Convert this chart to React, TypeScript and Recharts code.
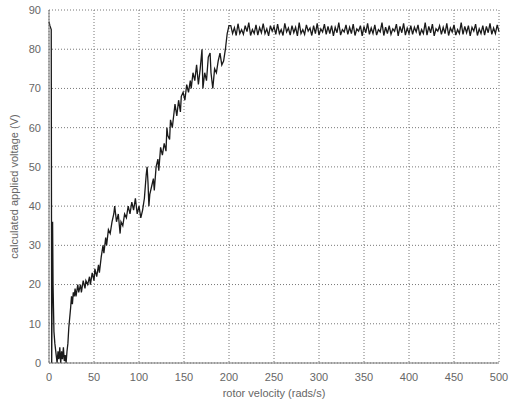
import React from "react";
import { LineChart, Line, XAxis, YAxis, CartesianGrid } from "recharts";

// start-up and ramp section (rads/s, V)
const rampVelocity = [
  0, 1, 2.5, 3, 4, 4.5, 5, 5.5, 6.5, 8, 9, 10, 11, 12, 13, 14, 15, 16, 17, 18, 19, 20, 21, 22, 24, 25, 26, 27,
  28, 29, 30, 32, 33, 35, 36, 38, 40, 41, 43, 45, 46, 48, 50, 51, 53, 55, 56, 58, 60, 61, 63, 64, 66, 68, 70,
  72, 73, 75, 77, 79, 80, 82, 84, 86, 88, 90, 92, 94, 96, 98, 100, 102, 104, 106, 108, 109, 110, 111, 112,
  114, 116, 117, 119, 121, 122, 124, 126, 128, 130, 131, 132, 134, 135, 137, 139, 140, 142, 144, 146, 147,
  149, 151, 153, 155, 157, 158, 160, 162, 164, 166, 168, 170, 171, 173, 175, 177, 179, 180, 182, 184, 186,
  188, 190, 192, 194, 196, 198, 199, 200,
];
const rampVoltage = [
  87, 86, 85, 0, 36, 20, 14, 8, 5, 2, 0, 3, 1, 4, 0, 3, 1, 4, 0.5, 2, 0, 3, 5, 9, 14, 17, 15, 18,
  17, 19, 17, 20, 18, 20, 18, 21, 19, 21, 20, 22, 20, 23, 21, 24, 22, 25, 23, 27, 30, 28, 32, 30, 34, 33, 36,
  38, 40, 36, 38, 33, 36, 35, 38, 37, 40, 38, 41, 39, 42, 38, 40, 37, 39, 42, 48, 50, 46, 40, 43,
  45, 47, 44, 50, 52, 49, 55, 53, 56, 54, 60, 58, 57, 62, 60, 64, 66, 63, 67, 64, 68,
  69, 67, 71, 69, 72, 70, 74, 72, 76, 71, 75, 80, 70, 74, 72, 78, 79, 74, 70, 75, 74,
  77, 79, 76, 77, 80, 84, 85, 86,
];

// saturated section
const plateauVelocity = [
  202, 204, 206, 208, 210, 212, 214, 216, 218, 220, 222, 224, 226, 228, 230, 232, 234, 236, 238, 240,
  242, 244, 246, 248, 250, 252, 254, 256, 258, 260, 262, 264, 266, 268, 270, 272, 274, 276, 278, 280,
  282, 284, 286, 288, 290, 292, 294, 296, 298, 300, 302, 304, 306, 308, 310, 312, 314, 316, 318, 320,
  322, 324, 326, 328, 330, 332, 334, 336, 338, 340, 342, 344, 346, 348, 350, 352, 354, 356, 358, 360,
  362, 364, 366, 368, 370, 372, 374, 376, 378, 380, 382, 384, 386, 388, 390, 392, 394, 396, 398, 400,
  402, 404, 406, 408, 410, 412, 414, 416, 418, 420, 422, 424, 426, 428, 430, 432, 434, 436, 438, 440,
  442, 444, 446, 448, 450, 452, 454, 456, 458, 460, 462, 464, 466, 468, 470, 472, 474, 476, 478, 480,
  482, 484, 486, 488, 490, 492, 494, 496, 498, 500,
];
const plateauVoltage = [
  86, 84, 85.5, 83.5, 86.5, 84, 85, 83.8, 86, 84.5, 86.8, 83.5, 85, 84, 86.2, 83.6, 85.5, 84.2, 86.5, 84,
  85.2, 83.4, 86, 84.6, 85.8, 83.8, 86.4, 84, 85, 83.5, 86.6, 84.4, 85.4, 83.6, 86, 84.2, 85.6, 83.4, 86.8, 84,
  85, 83.8, 86.2, 84.6, 85.4, 83.5, 86, 84, 86.6, 83.6, 85.2, 84.4, 86.4, 83.8, 85.8, 84, 86, 83.4, 85.6, 84.2,
  86.8, 83.6, 85, 84.4, 86.2, 83.8, 85.6, 84, 86.4, 83.5, 85.2, 84.6, 86, 83.4, 85.8, 84.2, 86.6, 83.8, 85.4, 84,
  86.2, 83.6, 85, 84.4, 86.8, 83.5, 85.6, 84, 86, 83.8, 85.2, 84.6, 86.4, 83.4, 85.8, 84.2, 86.6, 83.6, 85.4, 84,
  86, 83.8, 85.6, 84.4, 86.2, 83.5, 85, 84, 86.8, 83.6, 85.8, 84.2, 86.4, 83.4, 85.2, 84.6, 86, 83.8, 85.6, 84,
  86.6, 83.5, 85.4, 84.4, 86.2, 83.6, 85, 84, 86.8, 83.8, 85.8, 84.2, 86, 83.4, 85.6, 84.6, 86.4, 83.5, 85.2, 84,
  86, 83.6, 85.8, 84.2, 86.6, 83.8, 85.4, 84, 86.2, 84.5,
];

const xTicks = [0, 50, 100, 150, 200, 250, 300, 350, 400, 450, 500];
const yTicks = [0, 10, 20, 30, 40, 50, 60, 70, 80, 90];

const data = [
  ...rampVelocity.map((v, i) => ({ v, volt: rampVoltage[i] })),
  ...plateauVelocity.map((v, i) => ({ v, volt: plateauVoltage[i] })),
];

const font = "'Liberation Sans', Arial, sans-serif";
const tickStyle = { fontSize: 11, fill: "#666", fontFamily: font };

export default function App() {
  return (
    <div style={{ position: "absolute", left: 0, top: 0, width: 509, height: 405, background: "#fff" }}>
      <LineChart width={509} height={405} data={data} margin={{ top: 10, right: 10, bottom: 12, left: 9 }}>
        <CartesianGrid xAxisId="bottom" yAxisId="left" stroke="#777" strokeDasharray="1 2" />
        <XAxis
          xAxisId="bottom"
          dataKey="v"
          type="number"
          domain={[0, 500]}
          ticks={xTicks}
          height={30}
          tickLine={false}
          axisLine={{ stroke: "#777" }}
          tick={tickStyle}
          tickMargin={4}
          label={{
            value: "rotor velocity (rads/s)",
            position: "insideBottom",
            offset: -4,
            fontSize: 11,
            fill: "#666",
            fontFamily: font,
          }}
        />
        <XAxis xAxisId="top" orientation="top" type="number" domain={[0, 500]} ticks={xTicks} height={0}
          tick={false} tickLine={false} axisLine={{ stroke: "#777" }} />
        <YAxis
          yAxisId="left"
          type="number"
          domain={[0, 90]}
          ticks={yTicks}
          width={40}
          tickLine={false}
          axisLine={{ stroke: "#777" }}
          tick={tickStyle}
          tickMargin={2}
          label={{
            value: "calculated applied voltage (V)",
            angle: -90,
            position: "insideLeft",
            offset: 0,
            dx: 5,
            style: { textAnchor: "middle" },
            fontSize: 11,
            fill: "#666",
            fontFamily: font,
          }}
        />
        <YAxis yAxisId="right" orientation="right" type="number" domain={[0, 90]} ticks={yTicks} width={0}
          tick={false} tickLine={false} axisLine={{ stroke: "#777" }} />
        <Line
          xAxisId="bottom"
          yAxisId="left"
          type="linear"
          dataKey="volt"
          stroke="#1a1a1a"
          strokeWidth={1.3}
          dot={false}
          isAnimationActive={false}
        />
      </LineChart>
    </div>
  );
}
